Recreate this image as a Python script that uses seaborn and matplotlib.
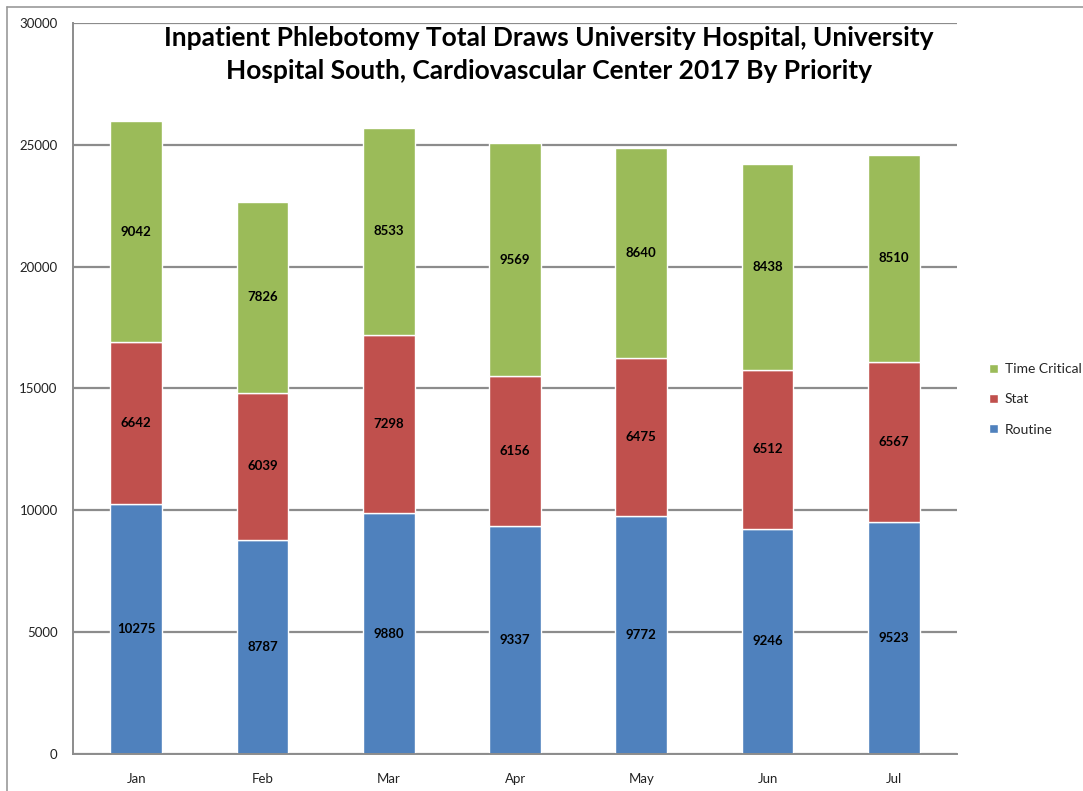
import numpy as np
import pandas as pd
import matplotlib
matplotlib.use('Agg')
import matplotlib.pyplot as plt
from matplotlib.lines import Line2D
from matplotlib.patches import Patch
import seaborn as sns

meses = ['Jan', 'Feb', 'Mar', 'Apr', 'May', 'Jun', 'Jul']
routine = [10275, 8787, 9880, 9337, 9772, 9246, 9523]
stat = [6642, 6039, 7298, 6156, 6475, 6512, 6567]
time_critical = [9042, 7826, 8533, 9569, 8640, 8438, 8510]

cor_routine = '#4F81BD'
cor_stat = '#C0504D'
cor_tc = '#9BBB59'

sns.set_style('white')
plt.rcParams['font.family'] = ['Lato', 'DejaVu Sans']

fig = plt.figure(figsize=(10.83, 7.91), dpi=100)
ax = fig.add_axes([0.0674, 0.0468, 0.8163, 0.9241])

df = pd.DataFrame({'Mes': meses, 'Routine': routine, 'Stat': stat, 'Time Critical': time_critical})
base_stat = df['Routine'].values
base_tc = (df['Routine'] + df['Stat']).values

ax.yaxis.grid(True, color='#8c8c8c', linewidth=1.6)
ax.set_axisbelow(True)

sns.barplot(data=df, x='Mes', y='Routine', color=cor_routine, width=0.41, saturation=1, ax=ax)
sns.barplot(data=df, x='Mes', y='Stat', bottom=base_stat, color=cor_stat, width=0.41, saturation=1, ax=ax)
sns.barplot(data=df, x='Mes', y='Time Critical', bottom=base_tc, color=cor_tc, width=0.41, saturation=1, ax=ax)

# rótulos dentro de cada segmento
for i in range(len(meses)):
    ax.text(i, routine[i] / 2, str(routine[i]), ha='center', va='center', fontsize=9.5, fontweight='bold', color='black')
    ax.text(i, base_stat[i] + stat[i] / 2, str(stat[i]), ha='center', va='center', fontsize=9.5, fontweight='bold', color='black')
    ax.text(i, base_tc[i] + time_critical[i] / 2, str(time_critical[i]), ha='center', va='center', fontsize=9.5, fontweight='bold', color='black')

ax.set_xlim(-0.5, len(meses) - 0.5)
ax.set_ylim(0, 30000)
ax.set_yticks(range(0, 30001, 5000))
ax.set_xticks(range(len(meses)))
ax.set_xticklabels(meses)
ax.set_xticks(np.arange(-0.5, len(meses), 1), minor=True)
ax.tick_params(axis='x', which='major', length=0, pad=14, labelsize=9.5, colors='#222222')
ax.tick_params(axis='x', which='minor', length=5, width=1.2, color='#8c8c8c', direction='out')
ax.tick_params(axis='y', length=5, width=1.2, color='#8c8c8c', direction='out', pad=6, labelsize=9.5, labelcolor='#222222')
ax.set_xlabel('')
ax.set_ylabel('')

for s in ['top', 'right']:
    ax.spines[s].set_visible(False)
for s in ['left', 'bottom']:
    ax.spines[s].set_color('#8c8c8c')
    ax.spines[s].set_linewidth(1.4)

ax.text(0.538, 0.996, 'Inpatient Phlebotomy Total Draws University Hospital, University\nHospital South, Cardiovascular Center 2017 By Priority',
        transform=ax.transAxes, ha='center', va='top', fontsize=19, fontweight='bold', linespacing=1.45,
        color='black')

handles = [Patch(facecolor=cor_tc, label='Time Critical'),
           Patch(facecolor=cor_stat, label='Stat'),
           Patch(facecolor=cor_routine, label='Routine')]
fig.legend(handles=handles, loc='center left', bbox_to_anchor=(0.902, 0.495), frameon=False,
           fontsize=10, handlelength=0.6, handleheight=0.6, handletextpad=0.5, labelspacing=1.3)

# moldura do gráfico
fig.add_artist(Line2D([0.0065, 0.0065], [0, 0.991], color='#999999', linewidth=1.2, transform=fig.transFigure))
fig.add_artist(Line2D([0.0065, 1], [0.991, 0.991], color='#999999', linewidth=1.2, transform=fig.transFigure))

fig.savefig('out.png', dpi=100)
